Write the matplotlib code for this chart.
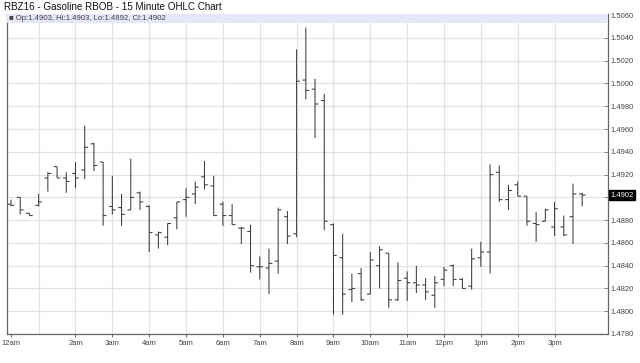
import matplotlib.pyplot as plt
from matplotlib.patches import Rectangle

plt.rcParams['font.family'] = ['Liberation Sans', 'DejaVu Sans']

# 15 minute bars, 12am .. 3:45pm
opens = [1.4894, 1.4900, 1.4886, 1.4893, 1.4917, 1.4927, 1.4917, 1.4921, 1.4924, 1.4947,
         1.4931, 1.4892, 1.4891, 1.4889, 1.4904, 1.4892, 1.4867, 1.4865, 1.4882, 1.4898,
         1.4903, 1.4918, 1.4910, 1.4894, 1.4884, 1.4873, 1.4870, 1.4839, 1.4838, 1.4844,
         1.4883, 1.4868, 1.5003, 1.4995, 1.4985, 1.4876, 1.4847, 1.4819, 1.4833, 1.4815,
         1.4840, 1.4851, 1.4810, 1.4829, 1.4825, 1.4823, 1.4814, 1.4828, 1.4840, 1.4828,
         1.4822, 1.4847, 1.4852, 1.4922, 1.4898, 1.4911, 1.4901, 1.4877, 1.4879, 1.4874,
         1.4874, 1.4883, 1.4903]
highs = [1.4898, 1.4900, 1.4886, 1.4903, 1.4922, 1.4927, 1.4922, 1.4931, 1.4963, 1.4948,
         1.4931, 1.4919, 1.4903, 1.4934, 1.4905, 1.4893, 1.4870, 1.4877, 1.4896, 1.4908,
         1.4914, 1.4932, 1.4919, 1.4896, 1.4894, 1.4874, 1.4876, 1.4848, 1.4855, 1.4891,
         1.4888, 1.5030, 1.5049, 1.5004, 1.4991, 1.4877, 1.4868, 1.4833, 1.4838, 1.4852,
         1.4857, 1.4851, 1.4843, 1.4835, 1.4840, 1.4829, 1.4831, 1.4839, 1.4841, 1.4829,
         1.4855, 1.4861, 1.4929, 1.4928, 1.4911, 1.4914, 1.4901, 1.4887, 1.4890, 1.4896,
         1.4884, 1.4912, 1.4904]
lows = [1.4892, 1.4885, 1.4884, 1.4892, 1.4905, 1.4917, 1.4904, 1.4908, 1.4916, 1.4923,
        1.4875, 1.4885, 1.4875, 1.4889, 1.4889, 1.4852, 1.4855, 1.4858, 1.4872, 1.4883,
        1.4894, 1.4907, 1.4884, 1.4875, 1.4876, 1.4859, 1.4834, 1.4828, 1.4815, 1.4833,
        1.4859, 1.4865, 1.4986, 1.4952, 1.4871, 1.4797, 1.4797, 1.4808, 1.4809, 1.4815,
        1.4820, 1.4803, 1.4809, 1.4809, 1.4816, 1.4810, 1.4803, 1.4822, 1.4822, 1.4820,
        1.4819, 1.4839, 1.4833, 1.4896, 1.4889, 1.4901, 1.4875, 1.4861, 1.4879, 1.4866,
        1.4866, 1.4859, 1.4892]
closes = [1.4893, 1.4889, 1.4884, 1.4896, 1.4921, 1.4917, 1.4914, 1.4917, 1.4944, 1.4928,
          1.4884, 1.4889, 1.4885, 1.4900, 1.4896, 1.4869, 1.4869, 1.4877, 1.4896, 1.4900,
          1.4909, 1.4911, 1.4884, 1.4884, 1.4876, 1.4873, 1.4840, 1.4839, 1.4842, 1.4889,
          1.4866, 1.5002, 1.4994, 1.4982, 1.4879, 1.4849, 1.4815, 1.4820, 1.4810, 1.4845,
          1.4854, 1.4810, 1.4827, 1.4825, 1.4823, 1.4817, 1.4825, 1.4836, 1.4828, 1.4820,
          1.4846, 1.4852, 1.4920, 1.4898, 1.4906, 1.4901, 1.4879, 1.4876, 1.4889, 1.4890,
          1.4867, 1.4903, 1.4902]

hour_labels = ["12am", "2am", "3am", "4am", "5am", "6am", "7am", "8am", "9am",
               "10am", "11am", "12pm", "1pm", "2pm", "3pm"]
hour_bars = [0, 7, 11, 15, 19, 23, 27, 31, 35, 39, 43, 47, 51, 55, 59]
grid_bars = [3, 7, 11, 15, 19, 23, 27, 31, 35, 39, 43, 47, 51, 55, 59]
price_ticks = [1.4780, 1.4800, 1.4820, 1.4840, 1.4860, 1.4880, 1.4900, 1.4920,
               1.4940, 1.4960, 1.4980, 1.5000, 1.5020, 1.5040, 1.5060]
last_price = 1.4902

fig = plt.figure(figsize=(6.4, 3.63), dpi=100)
fig.text(0.006, 0.981, "RBZ16 - Gasoline RBOB - 15 Minute OHLC Chart",
         fontsize=7.1, va="center", ha="left", color="#111111")

ax = fig.add_axes([0.011, 0.0799, 0.939, 0.8815])

x = list(range(len(opens)))
bar_color = "#3c3c3c"
# no snapping, so thin bars blur across pixels like the original
ax.vlines(x, lows, highs, color=bar_color, lw=0.75, zorder=3, snap=False)
ax.hlines(opens, [i - 0.36 for i in x], x, color=bar_color, lw=0.75, zorder=3, snap=False)
ax.hlines(closes, x, [i + 0.36 for i in x], color=bar_color, lw=0.75, zorder=3, snap=False)

for g in grid_bars:
    ax.axvline(g, color="#e2e2e2", lw=0.9, zorder=1)
for p in price_ticks:
    ax.axhline(p, color="#e2e2e2", lw=0.9, zorder=1)

ax.set_xlim(-0.43, 64.8)
ax.set_ylim(1.4780, 1.5061)

ax.set_xticks(hour_bars)
ax.set_xticklabels(hour_labels)
ax.yaxis.tick_right()
ax.set_yticks(price_ticks)
ax.set_yticklabels(["" if abs(p - 1.4900) < 1e-6 else "%.4f" % p for p in price_ticks])
ax.tick_params(axis="x", length=2, width=0.7, color="#666666", labelsize=5.5,
               labelcolor="#444444", pad=2)
ax.tick_params(axis="y", length=3, width=0.7, color="#888888", labelsize=5.5,
               labelcolor="#444444", pad=2, direction="in")

for side in ["left", "bottom", "right"]:
    ax.spines[side].set_color("#666666")
    ax.spines[side].set_linewidth(0.9)
ax.spines["top"].set_visible(False)

# legend strip
ax.add_patch(Rectangle((0, 0.972), 1, 0.028, transform=ax.transAxes,
                       facecolor="#e6e6fa", edgecolor="none", zorder=4))
ax.text(0.004, 0.986, "\u25a0 Op:1.4903, Hi:1.4903, Lo:1.4892, Cl:1.4902",
        transform=ax.transAxes, fontsize=5.6, va="center", ha="left",
        color="#444444", zorder=5)

ax.text(1.004, last_price, "%.4f" % last_price, transform=ax.get_yaxis_transform(),
        fontsize=5.5, va="center", ha="left", color="white", zorder=6,
        bbox=dict(boxstyle="square,pad=0.15", facecolor="black", edgecolor="black"))

fig.savefig("out.png", dpi=100)
